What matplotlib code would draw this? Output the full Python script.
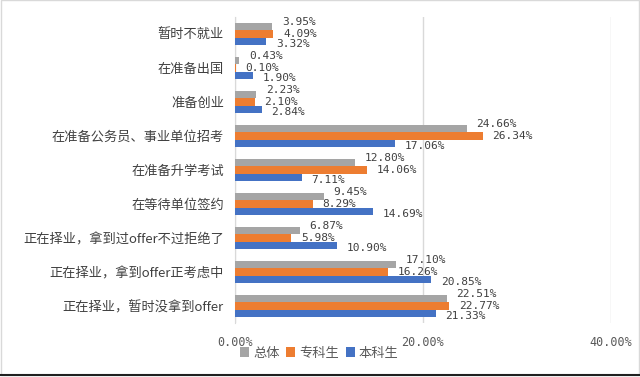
import numpy as np
import matplotlib
matplotlib.use('Agg')
import matplotlib.pyplot as plt
from matplotlib.patches import Rectangle

plt.rcParams['font.family'] = ['Noto Sans CJK SC', 'DejaVu Sans']

#%% Data (top to bottom as shown)
categories = ['暂时不就业', '在准备出国', '准备创业', '在准备公务员、事业单位招考',
              '在准备升学考试', '在等待单位签约', '正在择业，拿到过offer不过拒绝了',
              '正在择业，拿到offer正考虑中', '正在择业，暂时没拿到offer']
total = [3.95, 0.43, 2.23, 24.66, 12.80, 9.45, 6.87, 17.10, 22.51]
junior = [4.09, 0.10, 2.10, 26.34, 14.06, 8.29, 5.98, 16.26, 22.77]
bachelor = [3.32, 1.90, 2.84, 17.06, 7.11, 14.69, 10.90, 20.85, 21.33]
series_names = ['总体', '专科生', '本科生']
colors = ['#A5A5A5', '#ED7D31', '#4472C4']
xticks = [0, 20, 40]

#%% Plot
fig = plt.figure(figsize=(6.4, 3.77), dpi=100)
ax = fig.add_axes([235/640, 1-323/377, (611-235)/640, 306/377])

n = len(categories)
y = np.arange(n)[::-1]  # first category at top
h = 0.22
series = [total, junior, bachelor]
offsets = [h, 0, -h]
label_dy = [3, 0, -2]
for vals, off, col, name, dy in zip(series, offsets, colors, series_names, label_dy):
    ax.barh(y + off, vals, height=h, color=col, label=name, zorder=3)
    for yi, v in zip(y, vals):
        ax.annotate('%.2f%%' % v, (v, yi + off), xytext=(7, dy),
                    textcoords='offset points', va='center', ha='left',
                    fontsize=8, color='#404040', family='DejaVu Sans Mono')

ax.set_xlim(0, 40)
ax.set_ylim(-0.5, n - 0.5)
ax.set_yticks(y)
ax.set_yticklabels(categories, fontsize=9.5, color='#404040')
ax.set_xticks(xticks)
ax.set_xticklabels(['%.2f%%' % t for t in xticks], fontsize=8.5, color='#595959',
                   family='DejaVu Sans Mono')
ax.tick_params(length=0)
ax.tick_params(axis='x', pad=9)
ax.tick_params(axis='y', pad=8)
ax.grid(axis='x', color='#D9D9D9', linewidth=1, zorder=0)
for s in ['top', 'right', 'bottom']:
    ax.spines[s].set_visible(False)
ax.spines['left'].set_color('#D9D9D9')

handles, labels = ax.get_legend_handles_labels()
leg = fig.legend(handles, labels, loc='center left', bbox_to_anchor=(228/640, 1-353/377),
                 ncol=3, frameon=False, fontsize=9.5, handlelength=0.7, handleheight=0.7,
                 handletextpad=0.3, columnspacing=0.5, labelcolor='#595959')

# frame around the chart
fig.patches.append(Rectangle((0.001, 0.004), 0.997, 0.995, transform=fig.transFigure,
                             fill=False, edgecolor='#D9D9D9', linewidth=1))
fig.lines.append(plt.Line2D([0, 1], [0.004, 0.004], transform=fig.transFigure,
                            color='#202020', linewidth=1.5))

fig.savefig('out.png', dpi=100)
